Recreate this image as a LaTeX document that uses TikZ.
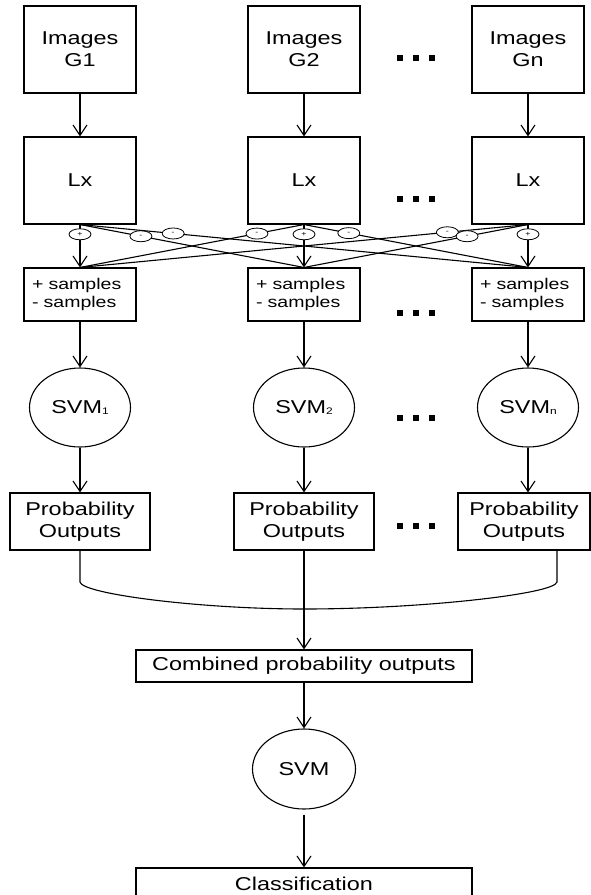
\documentclass[tikz,border=0pt]{standalone}
\usepackage{fontspec}
\newfontfamily\diagfont[FakeStretch=1.26]{Liberation Sans}
\usetikzlibrary{arrows.meta,shapes.geometric}
\newcommand\svmsub[1]{\raisebox{-1pt}{\fontsize{9.5}{9.5}\selectfont #1}}
\begin{document}
\begin{tikzpicture}[x=1pt,y=-1pt,line width=1.1pt,
  base/.style={draw,inner sep=0pt,align=center,
    font=\diagfont\fontsize{18.6}{22}\selectfont},
  box/.style={base,rectangle,minimum width=112pt},
  oval/.style={base,ellipse,minimum width=101pt,minimum height=79pt},
  samplebox/.style={draw,rectangle,inner sep=0pt,minimum width=112pt,minimum height=53pt,
    align=left,text width=96pt,font=\diagfont\fontsize{15.5}{17.6}\selectfont},
  pm/.style={draw,ellipse,fill=white,line width=0.8pt,inner sep=0pt,
    minimum width=22pt,minimum height=11pt,font=\diagfont\fontsize{7}{7}\selectfont},
  arr/.style={-{Straight Barb[length=10.5pt,width=14pt,line width=1.1pt]}},
  dotsq/.style={fill=black}]
\useasboundingbox (0,0) rectangle (591,895);

% image groups
\node[box,minimum height=87pt] (img1) at (80,49.5)  {Images\\G1};
\node[box,minimum height=87pt] (img2) at (304,49.5) {Images\\G2};
\node[box,minimum height=87pt] (imgn) at (528,49.5) {Images\\Gn};

% feature extraction
\node[box,minimum height=87pt] (lx1) at (80,180.5)  {Lx};
\node[box,minimum height=87pt] (lx2) at (304,180.5) {Lx};
\node[box,minimum height=87pt] (lxn) at (528,180.5) {Lx};

% positive / negative sample sets
\node[samplebox] (sm1) at (80,294.5)  {+ samples\\- samples};
\node[samplebox] (sm2) at (304,294.5) {+ samples\\- samples};
\node[samplebox] (smn) at (528,294.5) {+ samples\\- samples};

% per-group classifiers
\node[oval] (svm1) at (80,407.5)  {SVM\svmsub{1}};
\node[oval] (svm2) at (304,407.5) {SVM\svmsub{2}};
\node[oval] (svmn) at (528,407.5) {SVM\svmsub{n}};

% probability outputs
\node[base,rectangle,minimum width=140pt,minimum height=57pt] (p1) at (80,521.5)  {Probability\\Outputs};
\node[base,rectangle,minimum width=140pt,minimum height=57pt] (p2) at (304,521.5) {Probability\\Outputs};
\node[base,rectangle,minimum width=132pt,minimum height=57pt] (pn) at (524,521.5) {Probability\\Outputs};

% fusion stage
\node[base,rectangle,minimum width=336pt,minimum height=32pt] (comb) at (304,666) {Combined probability outputs};
\node[base,ellipse,minimum width=103pt,minimum height=80pt] (svm) at (304,769) {SVM};
\node[base,rectangle,minimum width=336pt,minimum height=32pt] (cls) at (304,884) {Classification};

% vertical flow
\foreach \a/\b in {img1/lx1,img2/lx2,imgn/lxn,sm1/svm1,sm2/svm2,smn/svmn,svm1/p1,svm2/p2}
  \draw[arr] (\a.south) -- (\b.north);
\draw[arr] (svmn.south) -- (svmn.south |- pn.north);
\draw[arr] (lx1.south) -- (sm1.north) node[pm,pos=0.227] (pp1) {+};
\draw[arr] (lx2.south) -- (sm2.north) node[pm,pos=0.227] (pp2) {+};
\draw[arr] (lxn.south) -- (smn.north) node[pm,pos=0.227] (ppn) {+};

% negative samples taken from the other groups
\draw (lx1.south) -- (sm2.north) node[pm,pos=0.272] (m12) {-};
\draw (lx1.south) -- (smn.north) node[pm,pos=0.208] (m1n) {-};
\draw (lx2.south) -- (sm1.north) node[pm,pos=0.21] (m21) {-};
\draw (lx2.south) -- (smn.north) node[pm,pos=0.20] (m2n) {-};
\draw (lxn.south) -- (sm1.north) node[pm,pos=0.18] (mn1) {-};
\draw (lxn.south) -- (sm2.north) node[pm,pos=0.272] (mn2) {-};

% merging the probability outputs
\coordinate (pnout) at (557,550);
\coordinate (join) at (304,609);
\draw (p1.south) -- (80,582) .. controls (82,594) and (200,609) .. (join)
      .. controls (421,609) and (555,594) .. (557,582) -- (pnout);
\draw[arr] (p2.south) -- (comb.north);
\draw[arr] (comb.south) -- (svm.north);
\draw[arr,shorten <=5pt] (svm.south) -- (cls.north);

% ellipsis marks between the second and last columns
\foreach \y in {58,199,313,418,526}
  \foreach \x in {400,416,432}
    \fill[dotsq] (\x-3,\y-3) rectangle (\x+3,\y+3);
\end{tikzpicture}
\end{document}
